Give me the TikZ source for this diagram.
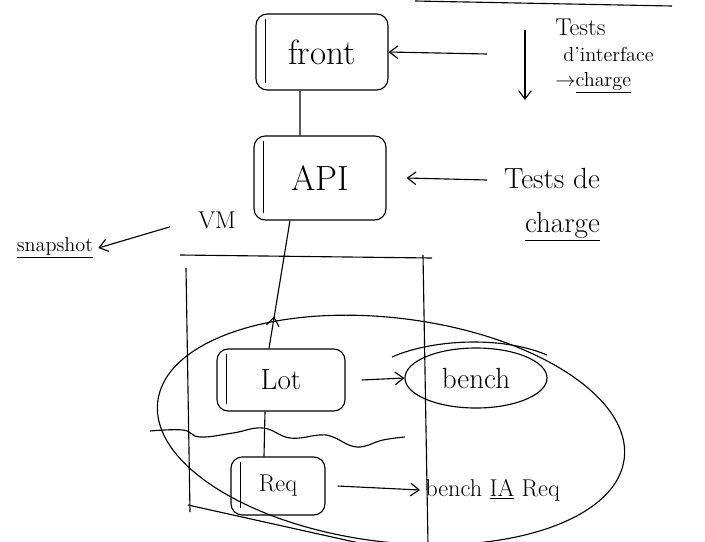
\documentclass[tikz,border=0pt]{standalone}
\usepackage{tikz}
\usetikzlibrary{shapes.geometric,arrows.meta,positioning,decorations.markings}

\begin{document}
\begin{tikzpicture}[
    x=0.025cm, y=-0.025cm,
    line width=0.8pt,
    block/.style={rectangle, draw, rounded corners=8pt, minimum width=3.3cm, minimum height=1.9cm, font=\Huge},
    bubble/.style={ellipse, draw, minimum width=3.55cm, minimum height=1.5cm, font=\huge},
    note/.style={align=left, font=\LARGE},
    arrow/.style={-{Straight Barb[length=6pt,width=9pt]}},
    midarrow/.style={postaction={decorate}, decoration={markings, mark=at position 0.25 with {\arrow{Straight Barb[length=6pt,width=9pt]}}}}
]
    \useasboundingbox (0,0) rectangle (705,541);

    % Boxes
    \node[block] (front) at (322,52) {front};
    \node[block, minimum height=2.1cm] (api) at (320,178) {API};
    \node[block, minimum width=3.2cm, minimum height=1.55cm, font=\huge] (lot) at (281,380) {Lot};
    \node[block, minimum width=2.35cm, minimum height=1.45cm, font=\LARGE] (req) at (278,486) {Req};
    \node[bubble] (bench) at (476,378) {bench};

    % Left bars inside the boxes
    \foreach \b in {front,api,lot,req}
        \draw ([xshift=0.25cm,yshift=-0.15cm]\b.north west) -- ([xshift=0.25cm,yshift=0.2cm]\b.south west);

    % Notes
    \node[note, anchor=north west, font=\Large] (ihm) at (550,14) {\LARGE Tests\\\hspace{0.4em}d'interface\\$\rightarrow$\underline{charge}};
    \node[note, align=right, font=\huge] (perf) at (552,205) {Tests de\\[6pt]\underline{charge}};
    \node[font=\LARGE] (vm) at (217,220) {VM};
    \node[font=\Large] (snap) at (55,248) {\underline{snapshot}};
    \node[font=\LARGE, anchor=west] (benchia) at (420,490) {bench \underline{IA} Req};

    \coordinate (ihm-in) at (487,54);
    \coordinate (ihm-top) at (525,30);
    \coordinate (ihm-bot) at (525,100);
    \coordinate (perf-in) at (487,180);

    % Edges
    \draw[arrow] (ihm-in) -- (front.east);
    \draw[arrow] (ihm-top) -- (ihm-bot);
    \draw[arrow] (perf-in) -- ([xshift=0.5cm]api.east);
    \draw[arrow, shorten <=0.6cm] (vm.west) -- (snap.east);
    \draw ([xshift=-0.55cm]front.south) -- ([xshift=-0.5cm]api.north);
    \draw[midarrow] ([xshift=-0.3cm]lot.north) -- ([xshift=-0.75cm]api.south);
    \draw ([xshift=-0.4cm]lot.south) -- ([xshift=-0.35cm]req.north);
    \draw[arrow] ([xshift=0.4cm]lot.east) -- (bench.west);
    \draw[arrow] ([xshift=0.3cm]req.east) -- (benchia.west);

    % Enclosure
    \draw (415,1) -- (672,6);
    \draw (180,255) -- (432,258);
    \draw (186,268) -- (190,512);
    \draw (423,255) -- (428,545);
    \draw (188,505) -- (368,545);
    \draw[rotate around={-7:(391,430)}] (391,430) ellipse [x radius=235, y radius=112];
    \draw (392,357) .. controls (430,340) and (500,335) .. (547,355);
    \draw plot[smooth, tension=0.7] coordinates {(150,431) (183,430) (200,437) (233,433) (263,428) (290,438) (320,435) (333,437) (357,447) (383,440) (405,437)};
\end{tikzpicture}
\end{document}
